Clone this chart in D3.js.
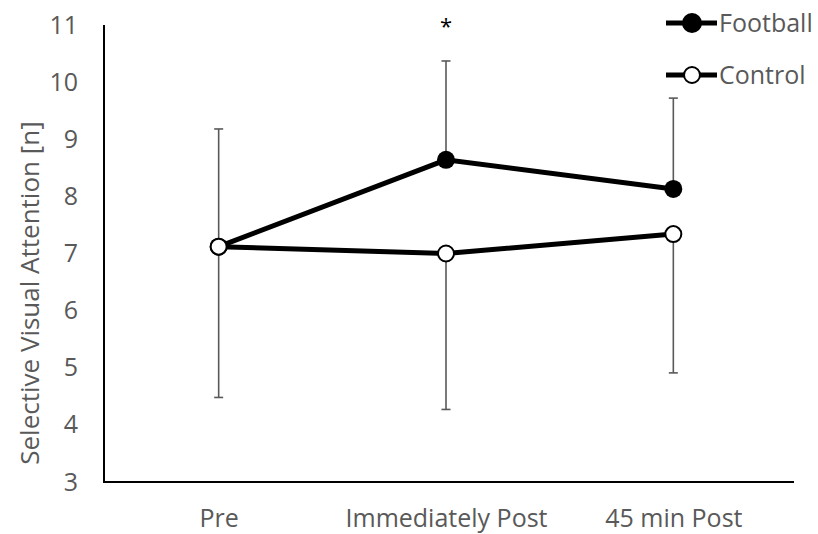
<!DOCTYPE html>
<html>
<head>
<meta charset="utf-8">
<script src="https://cdn.jsdelivr.net/npm/d3@7"></script>
<style>
  body { margin: 0; background: #fff; }
  text { font-family: "Open Sans", "Noto Sans", sans-serif; }
</style>
</head>
<body>
<div id="chart"></div>
<script>
// data
var timepoints = ["Pre", "Immediately Post", "45 min Post"];
var footballMean = [7.12, 8.64, 8.13];
var footballUpper = [9.18, 10.37, 9.72];
var controlMean = [7.12, 7.0, 7.34];
var controlLower = [4.48, 4.27, 4.91];
var yTicks = [3, 4, 5, 6, 7, 8, 9, 10, 11];
var sigMarks = ["", "*", ""];

var svgWidth = 818;
var svgHeight = 534;

var svg = d3.select("#chart")
    .append("svg")
    .attr("width", svgWidth)
    .attr("height", svgHeight);

// scales
var x = d3.scalePoint()
    .domain(timepoints)
    .range([105, 787])
    .padding(0.5);

var y = d3.scaleLinear()
    .domain([3, 11])
    .range([482, 25]);

var grey = "#595959";

// y tick labels (no tick marks)
var yAxis = d3.axisLeft(y).tickValues(yTicks).tickSize(0).tickPadding(26);
var gy = svg.append("g")
    .attr("transform", "translate(104,0)")
    .call(yAxis);
gy.select(".domain").remove();
gy.selectAll("text")
    .attr("fill", grey)
    .attr("font-size", 25)
    .style("font-family", "'Open Sans', sans-serif");

// x tick labels
var xAxis = d3.axisBottom(x).tickSize(0).tickPadding(27);
var gx = svg.append("g")
    .attr("transform", "translate(0,482)")
    .call(xAxis);
gx.select(".domain").remove();
gx.selectAll("text")
    .attr("fill", grey)
    .attr("font-size", 25)
    .style("font-family", "'Open Sans', sans-serif");

// axis lines
svg.append("path")
    .attr("d", "M104,25V482H794")
    .attr("fill", "none")
    .attr("stroke", "#000")
    .attr("stroke-width", 2);

// y title
svg.append("text")
    .attr("transform", "translate(39,293) rotate(-90)")
    .attr("text-anchor", "middle")
    .attr("fill", grey)
    .attr("font-size", 26)
    .text("Selective Visual Attention [n]");

// error bars
var capW = 9;
function errorBars(means, ends) {
    var g = svg.append("g");
    timepoints.forEach(function(t, i) {
        g.append("line")
            .attr("x1", x(t)).attr("x2", x(t))
            .attr("y1", y(means[i])).attr("y2", y(ends[i]))
            .attr("stroke", grey).attr("stroke-width", 1.6);
        g.append("line")
            .attr("x1", x(t) - capW / 2).attr("x2", x(t) + capW / 2)
            .attr("y1", y(ends[i])).attr("y2", y(ends[i]))
            .attr("stroke", grey).attr("stroke-width", 1.6);
    });
}
errorBars(footballMean, footballUpper);
errorBars(controlMean, controlLower);

var line = d3.line()
    .x(function(d, i) { return x(timepoints[i]); })
    .y(function(d) { return y(d); });

// control series
svg.append("path")
    .datum(controlMean)
    .attr("d", line)
    .attr("fill", "none")
    .attr("stroke", "#000")
    .attr("stroke-width", 5);

// football series
svg.append("path")
    .datum(footballMean)
    .attr("d", line)
    .attr("fill", "none")
    .attr("stroke", "#000")
    .attr("stroke-width", 5);

svg.selectAll(".fb")
    .data(footballMean)
    .enter()
    .append("circle")
    .attr("class", "fb")
    .attr("cx", function(d, i) { return x(timepoints[i]); })
    .attr("cy", function(d) { return y(d); })
    .attr("r", 9)
    .attr("fill", "#000");

svg.selectAll(".ctl")
    .data(controlMean)
    .enter()
    .append("circle")
    .attr("class", "ctl")
    .attr("cx", function(d, i) { return x(timepoints[i]); })
    .attr("cy", function(d) { return y(d); })
    .attr("r", 8)
    .attr("fill", "#fff")
    .attr("stroke", "#000")
    .attr("stroke-width", 2);

// significance marks
svg.selectAll(".sig")
    .data(sigMarks)
    .enter()
    .append("text")
    .attr("class", "sig")
    .attr("x", function(d, i) { return x(timepoints[i]); })
    .attr("y", 34)
    .attr("text-anchor", "middle")
    .attr("font-size", 22)
    .attr("fill", "#000")
    .text(function(d) { return d; });

// legend
var legend = [
    { name: "Football", fill: "#000", cy: 23 },
    { name: "Control", fill: "#fff", cy: 75 }
];
var lg = svg.selectAll(".legend")
    .data(legend)
    .enter()
    .append("g")
    .attr("class", "legend")
    .attr("transform", function(d) { return "translate(0," + d.cy + ")"; });
lg.append("line")
    .attr("x1", 666).attr("x2", 717)
    .attr("stroke", "#000").attr("stroke-width", 5);
lg.append("circle")
    .attr("cx", 692)
    .attr("r", function(d) { return d.fill === "#000" ? 9 : 8; })
    .attr("fill", function(d) { return d.fill; })
    .attr("stroke", "#000")
    .attr("stroke-width", 2);
lg.append("text")
    .attr("x", 719)
    .attr("dy", "0.35em")
    .attr("font-size", 25)
    .attr("fill", grey)
    .text(function(d) { return d.name; });
</script>
</body>
</html>
